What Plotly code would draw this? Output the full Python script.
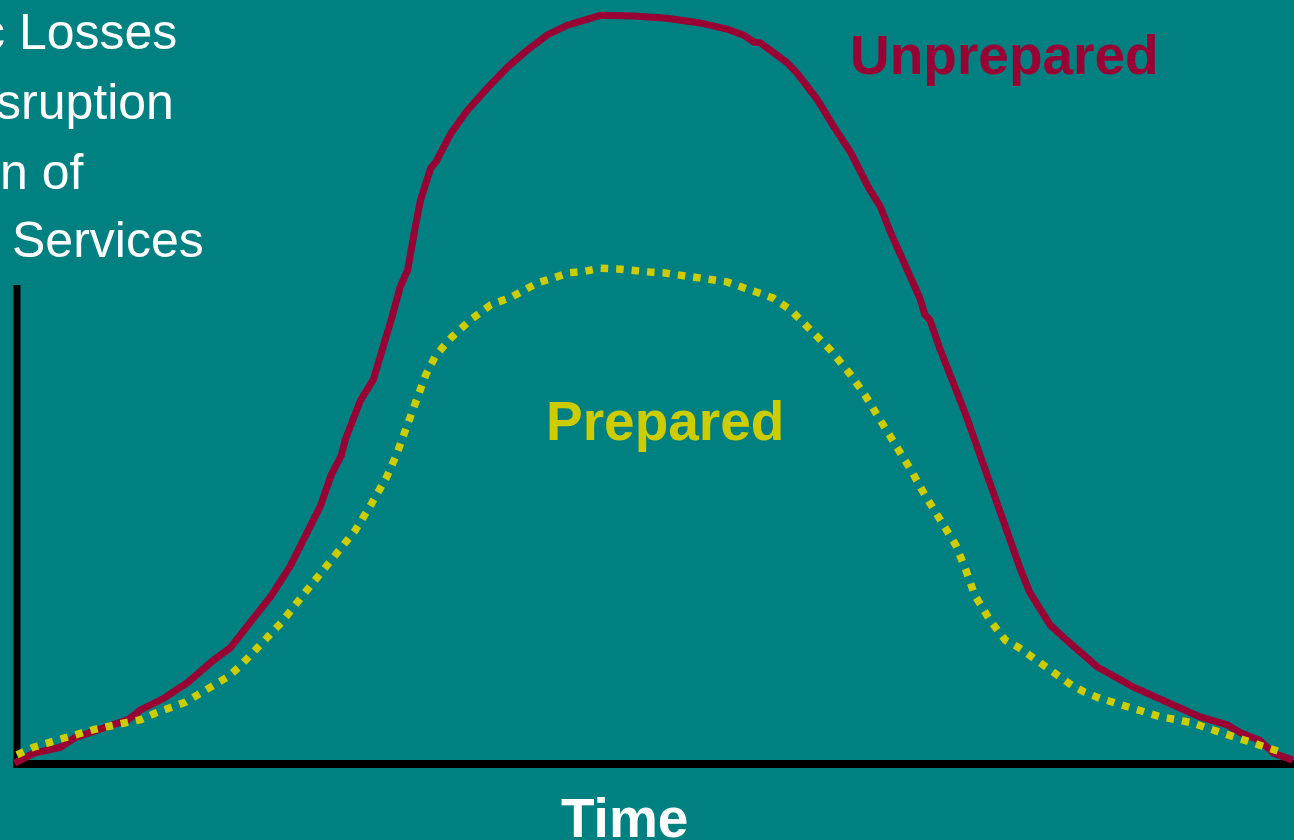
import plotly.graph_objects as go

# Time (0-100) and losses (0-100)
unprep_t = [-0.2, 1.3, 3.4, 4.5, 8.7, 9.7, 11.5, 13.4, 15.4, 16.7, 18.3, 19.9, 21.4, 22.2, 23.0,
            23.8, 24.6, 25.4, 25.7, 26.1, 26.9, 27.9, 28.5, 29.3, 30.0, 30.6, 31.1, 31.6, 32.4,
            32.8, 34.0, 35.3, 36.9, 38.4, 40.0, 41.5, 43.1, 44.7, 45.7, 48.3, 50.9, 53.5, 55.6,
            56.9, 57.7, 58.2, 59.0, 60.3, 61.1, 62.7, 63.9, 65.3, 66.7, 67.6, 68.4, 69.6, 70.7,
            71.1, 71.5, 72.3, 73.1, 73.5, 74.3, 75.0, 76.2, 77.4, 77.8, 78.6, 79.3, 80.1, 80.9,
            82.2, 84.6, 87.4, 90.1, 92.6, 94.8, 95.8, 97.3, 98.4, 99.9]
unprep_loss = [0.1, 1.4, 2.2, 3.4, 5.8, 7.1, 8.6, 10.7, 13.6, 15.2, 18.6, 22.0, 25.9, 28.7, 31.3,
               33.9, 37.8, 40.4, 42.4, 44.0, 47.6, 50.3, 53.5, 58.1, 62.4, 64.7, 69.5, 73.8, 78.0,
               78.8, 82.6, 85.6, 88.6, 91.2, 93.5, 95.4, 96.7, 97.6, 98.0, 97.9, 97.6, 97.0, 96.2,
               95.4, 94.5, 94.4, 93.5, 91.8, 90.4, 86.9, 83.6, 80.0, 75.4, 73.0, 69.6, 65.3, 61.0,
               58.8, 58.1, 54.2, 50.9, 49.6, 45.7, 42.4, 36.5, 30.6, 29.3, 25.4, 22.5, 20.2, 18.2,
               16.2, 12.7, 10.1, 8.0, 6.2, 5.1, 4.1, 3.1, 1.4, 0.5]

prep_t = [0.0, 1.3, 3.7, 6.0, 8.5, 9.7, 10.9, 13.2, 14.4, 15.4, 16.5, 17.4, 19.1, 20.7, 22.2,
          23.8, 25.4, 26.5, 27.7, 28.9, 29.7, 30.4, 31.2, 32.0, 32.8, 34.0, 35.5, 37.1, 38.7,
          39.7, 40.8, 42.0, 43.2, 44.5, 45.7, 47.0, 48.3, 49.5, 50.6, 52.0, 53.1, 54.5, 55.6,
          56.8, 58.0, 59.2, 60.6, 62.1, 63.7, 65.3, 66.4, 67.6, 68.8, 70.0, 71.1, 72.3, 73.5,
          74.3, 75.0, 76.2, 77.4, 78.4, 79.5, 80.5, 81.5, 82.6, 83.6, 84.8, 86.0, 87.2, 88.3,
          89.5, 90.8, 92.0, 93.2, 94.4, 95.5, 96.8, 98.0, 98.9]
prep_loss = [1.2, 2.2, 3.4, 4.5, 5.4, 5.8, 6.7, 8.1, 9.3, 10.2, 11.4, 12.7, 15.6, 18.5, 21.7,
             25.1, 28.4, 30.6, 33.9, 37.4, 40.4, 43.7, 47.6, 50.9, 53.5, 55.8, 58.1, 60.1, 61.1,
             62.0, 63.0, 63.6, 64.3, 64.5, 64.9, 64.8, 64.5, 64.4, 64.3, 64.0, 63.7, 63.5, 63.1,
             62.4, 61.6, 61.0, 59.4, 56.8, 54.2, 50.9, 48.3, 45.0, 41.8, 38.5, 35.2, 31.9, 28.7,
             25.4, 22.1, 18.8, 16.2, 15.3, 13.9, 12.7, 11.6, 10.3, 9.4, 8.6, 8.0, 7.2, 6.7,
             6.2, 5.8, 5.4, 4.7, 4.1, 3.4, 2.7, 2.2, 1.6]

y_axis_top = 62.7
left_label_lines = ["c Losses", "sruption", "n of", "Services"]

TEAL = "#008080"
RED = "#990033"
YEL = "#CCCC00"
W, H = 1294, 840

fig = go.Figure()
fig.add_trace(go.Scatter(x=unprep_t, y=unprep_loss, mode="lines",
                         line=dict(color=RED, width=7), hoverinfo="skip"))
fig.add_trace(go.Scatter(x=prep_t, y=prep_loss, mode="lines",
                         line=dict(color=YEL, width=7.5, dash="7.5px,8px"), hoverinfo="skip"))

# axes drawn as thick black lines
fig.add_shape(type="line", x0=-0.3, x1=100.5, y0=0, y1=0, xref="x", yref="y",
              line=dict(color="black", width=8), layer="below")
fig.add_shape(type="line", x0=0, x1=0, y0=-0.5, y1=y_axis_top, xref="x", yref="y",
              line=dict(color="black", width=7), layer="below")

def px(xp):
    return xp / W

def py(yp):
    return 1 - yp / H

bold = dict(family="Liberation Sans, Arial, sans-serif", size=55)
fig.add_annotation(text="<b>Unprepared</b>", x=px(1004), y=py(55), xref="paper", yref="paper",
                   showarrow=False, xanchor="center", yanchor="middle",
                   font=dict(color=RED, **bold))
fig.add_annotation(text="<b>Prepared</b>", x=px(665), y=py(421), xref="paper", yref="paper",
                   showarrow=False, xanchor="center", yanchor="middle",
                   font=dict(color=YEL, **bold))
fig.add_annotation(text="<b>Time</b>", x=px(624), y=py(818), xref="paper", yref="paper",
                   showarrow=False, xanchor="center", yanchor="middle",
                   font=dict(color="white", **bold))

right_edges = [179, 176, 86, 206]
mids = [32, 102, 172, 240]
for txt, xr, ym in zip(left_label_lines, right_edges, mids):
    fig.add_annotation(text=txt, x=px(xr), y=py(ym), xref="paper", yref="paper",
                       showarrow=False, xanchor="right", yanchor="middle",
                       font=dict(color="white", family="Liberation Sans, Arial, sans-serif", size=50))

fig.update_layout(
    width=W, height=H,
    margin=dict(l=0, r=0, t=0, b=0),
    paper_bgcolor=TEAL, plot_bgcolor=TEAL,
    showlegend=False,
    xaxis=dict(range=[-1.33, 100], visible=False, fixedrange=True),
    yaxis=dict(range=[-9.95, 100], visible=False, fixedrange=True),
)

fig.write_html("out.html", config={"displayModeBar": False},
               post_script="document.body.style.margin='0';document.body.style.padding='0';"
                           "document.body.style.overflow='hidden';")
